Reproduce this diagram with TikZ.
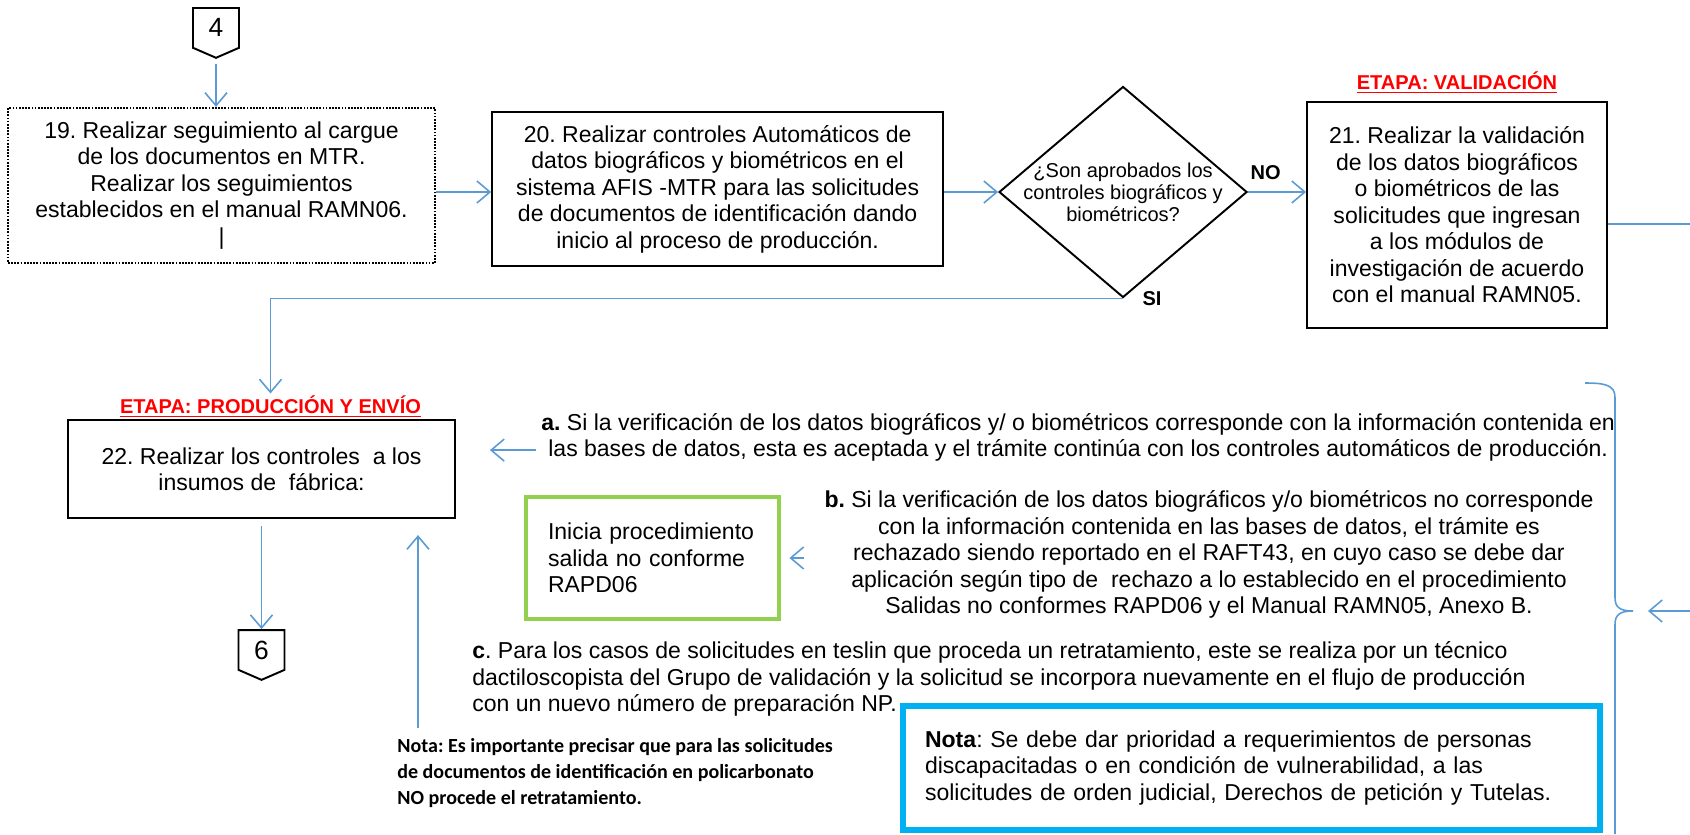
\documentclass[tikz,border=0pt]{standalone}
\usepackage{fontspec}
\setmainfont{Liberation Sans}
\newfontfamily\notefont{Carlito}
\usepackage{xcolor}
\usepackage{tikz}
\usetikzlibrary{shapes.geometric,shapes.symbols,arrows.meta,positioning,calc}
\definecolor{flowblue}{RGB}{91,155,213}
\definecolor{okgreen}{RGB}{146,208,80}
\definecolor{noteblue}{RGB}{0,176,240}
\definecolor{stagered}{RGB}{255,0,0}
\newcommand{\boxfont}{\fontsize{13.1}{15.1}\selectfont}
\newcommand{\smallfont}{\fontsize{11.4}{12.5}\selectfont}
\frenchspacing

\begin{document}
\begin{tikzpicture}[
    node distance=1cm,
    stepbox/.style={rectangle, draw, line width=1.1pt, align=center, font=\boxfont, inner sep=0pt},
    decision/.style={diamond, draw, line width=1.1pt, inner sep=0pt, minimum width=4.96cm, minimum height=4.22cm},
    dtext/.style={align=center, font=\smallfont, inner sep=0pt},
    offpage/.style={signal, signal to=south, signal pointer angle=133, draw, line width=1.1pt, minimum width=0.92cm, minimum height=0.86cm, inner sep=0pt, font=\fontsize{15}{17}\selectfont},
    stage/.style={text=stagered, font=\smallfont\bfseries, inner sep=1pt},
    yesno/.style={font=\smallfont\bfseries, inner sep=1pt},
    para/.style={align=center, font=\boxfont, inner sep=0.1cm},
    notebox/.style={rectangle, draw, align=left, font=\boxfont, inner ysep=0.1cm, inner xsep=0.44cm},
    flow/.style={draw=flowblue, line width=0.9pt, -{Straight Barb[length=0.26cm,width=0.44cm]}},
    link/.style={draw=flowblue, line width=0.9pt}
]
\useasboundingbox (0,0) rectangle (33.8,-16.68);

% top row
\node[stepbox, dash pattern=on 1pt off 0.8pt, line width=1.3pt, minimum width=8.54cm, minimum height=3.10cm] (b19) at (4.43,-3.71)
  {19. Realizar seguimiento al cargue\\de los documentos en MTR.\\Realizar los seguimientos\\establecidos en el manual RAMN06.\\|};
\node[offpage, above=0.96cm of b19, xshift=-0.11cm] (c4) {4};
\node[stepbox, minimum width=9.02cm, minimum height=3.08cm, right=1.10cm of b19, yshift=-0.07cm] (b20)
  {20. Realizar controles Automáticos de\\datos biográficos y biométricos en el\\sistema AFIS -MTR para las solicitudes\\de documentos de identificación dando\\inicio al proceso de producción.};
\node[decision, right=1.08cm of b20, yshift=-0.06cm] (dq) {};
\node[dtext] (dqt) at (dq) {¿Son aprobados los\\controles biográficos y\\biométricos?};
\node[stepbox, minimum width=6cm, minimum height=4.52cm, right=1.16cm of dq, yshift=-0.46cm] (b21)
  {21. Realizar la validación\\de los datos biográficos\\o biométricos de las\\solicitudes que ingresan\\a los módulos de\\investigación de acuerdo\\con el manual RAMN05.};
\node[stage, above=0.12cm of b21] (s21) {\underline{ETAPA: VALIDACIÓN}};

% production stage
\node[stepbox, minimum width=7.74cm, minimum height=1.96cm, below=3.10cm of b19, xshift=0.8cm] (b22)
  {22. Realizar los controles~ a los\\insumos de~ fábrica:};
\node[stage, above=0cm of b22, xshift=0.18cm] (s22) {\underline{ETAPA: PRODUCCIÓN Y ENVÍO}};
\node[offpage, below=2.2cm of b22] (c6) {6};

\node[para, right=1.6cm of b22, yshift=0.63cm] (pa)
  {\textbf{a.} Si la verificación de los datos biográficos y/ o biométricos corresponde con la información contenida en\\las bases de datos, esta es aceptada y el trámite continúa con los controles automáticos de producción.};
\node[notebox, draw=okgreen, line width=2.8pt, text width=4.18cm, minimum height=2.44cm] (gb) at (13.05,-11.16)
  {Inicia procedimiento\\salida no conforme\\RAPD06};
\node[para] (pb) at (24.18,-11.09)
  {\textbf{b.} Si la verificación de los datos biográficos y/o biométricos no corresponde\\con la información contenida en las bases de datos, el trámite es\\rechazado siendo reportado en el RAFT43, en cuyo caso se debe dar\\aplicación según tipo de~ rechazo a lo establecido en el procedimiento\\Salidas no conformes RAPD06 y el Manual RAMN05, Anexo B.};
\node[para, align=left, anchor=west] (pc) at (9.34,-13.58)
  {\textbf{c}. Para los casos de solicitudes en teslin que proceda un retratamiento, este se realiza por un técnico\\dactiloscopista del Grupo de validación y la solicitud se incorpora nuevamente en el flujo de producción\\con un nuevo número de preparación NP.};
\node[notebox, draw=noteblue, line width=3.2pt, text width=13.06cm, minimum height=2.48cm] (bb) at (25.03,-15.36)
  {\textbf{Nota}: Se debe dar prioridad a requerimientos de personas\\discapacitadas o en condición de vulnerabilidad, a las\\solicitudes de orden judicial, Derechos de petición y Tutelas.};
\node[align=left, inner sep=0.1cm, anchor=west, font=\notefont\bfseries\fontsize{11.4}{14.8}\selectfont] (nota1) at (7.84,-15.46)
  {Nota: Es importante precisar que para las solicitudes\\de documentos de identificación en policarbonato\\NO procede el retratamiento.};

% connectors
\draw[flow, shorten <=0.1cm] (c4.south) -- (c4.south |- b19.north);
\draw[flow] (b19.east |- dq) -- (b20.west |- dq);
\draw[flow] (b20.east |- dq) -- (dq.west);
\draw[flow] (dq.east) -- node[yesno, anchor=south west, pos=0, yshift=0.2cm] {NO} (dq.east -| b21.west);
\draw[flow] (dq.south) node[yesno, anchor=west, xshift=0.34cm] {SI} -| (s22.north);
\coordinate (r21) at (33.8,-4.48);
\draw[link] (b21.east |- r21) -- (r21);
\draw[flow, shorten <=0.14cm] (b22.south) -- (c6.north);

\coordinate (pa0) at ([yshift=-0.25cm]pa.west);
\draw[flow, shorten >=0.68cm] (pa0) -- (pa0 -| b22.east);
\draw[flow, shorten <=0.3cm, shorten >=0.16cm] (pb.west |- gb) -- (gb.east);
\coordinate (up0) at ([xshift=0.52cm]nota1.north west);
\draw[flow, shorten <=0.1cm, shorten >=0.32cm] (up0) -- (up0 |- b22.south);

% brace on the right
\coordinate (bt) at (32.66,-12.22);
\draw[link] (31.70,-7.66) .. controls (32.10,-7.66) and (32.30,-7.70) .. (32.30,-7.95) -- (32.30,-11.95)
  .. controls (32.30,-12.15) and (32.40,-12.22) .. (bt)
  .. controls (32.40,-12.22) and (32.30,-12.29) .. (32.30,-12.49) -- (32.30,-16.68);
\coordinate (rin) at (33.8,-12.22);
\draw[flow, shorten >=0.3cm] (rin) -- (bt);

\end{tikzpicture}
\end{document}
